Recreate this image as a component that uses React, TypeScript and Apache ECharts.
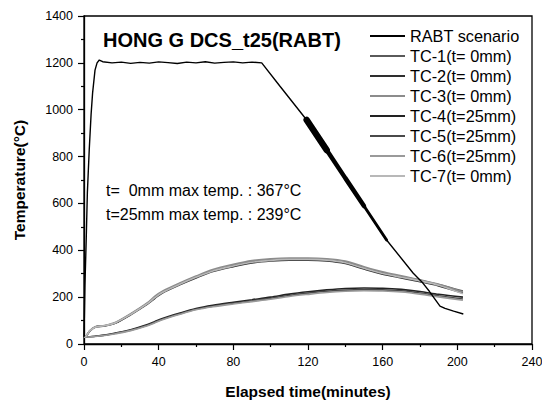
import React, { useEffect, useRef } from "react";
import * as echarts from "echarts";

// ---- Data ----
const rabtTimes = [0, 0.5, 1.2, 1.8, 2.8, 3.8, 4.6, 5.9, 7, 8.2, 10, 15, 20, 25, 30, 35, 40, 45, 50, 55, 60, 65, 70, 75, 80, 85, 90, 95.2, 105, 119.3, 125, 130, 140, 150, 162.1, 176.4, 180.9, 185, 190.7, 193.4, 198, 203.2];
const rabtValues = [30, 250, 450, 645, 828, 980, 1071, 1169, 1200, 1212, 1205, 1200, 1203, 1198, 1202, 1199, 1204, 1201, 1197, 1203, 1200, 1205, 1199, 1202, 1204, 1200, 1203, 1200, 1100, 956, 888, 828, 708, 589, 444, 302, 266, 225, 162, 152, 140, 128];

const tcTimes = [0, 1, 3, 6, 11, 17, 25, 34, 38, 42, 51, 60, 69, 80, 90, 100, 110, 120, 130, 140, 150, 160, 170, 180, 190, 203];
const tc1 = [30, 32, 55, 73, 78, 91, 127, 173, 200, 222, 256, 287, 314, 336, 352, 360, 364, 364, 361, 350, 326, 304, 288, 272, 254, 226];
const tc2 = [30, 32, 54, 72, 77, 90, 125, 170, 195, 218, 252, 282, 309, 330, 346, 354, 358, 358, 355, 344, 320, 298, 282, 266, 248, 218];
const tc3 = [30, 33, 56, 74, 79, 93, 129, 176, 204, 225, 259, 290, 318, 340, 356, 364, 367, 367, 364, 354, 330, 308, 291, 274, 255, 222];
const tc4 = [30, 30, 31, 33, 38, 47, 61, 83, 96, 109, 131, 151, 165, 178, 189, 200, 213, 223, 231, 237, 239, 238, 233, 224, 212, 200];
const tc5 = [30, 30, 31, 33, 37, 46, 59, 80, 93, 106, 128, 148, 161, 174, 184, 195, 207, 217, 225, 230, 232, 231, 227, 218, 206, 192];
const tc6 = [30, 30, 30, 32, 36, 44, 57, 78, 91, 104, 126, 146, 159, 171, 181, 191, 203, 212, 220, 225, 227, 226, 222, 213, 201, 187];
const tc7 = [30, 32, 55, 72, 78, 91, 126, 172, 198, 220, 254, 285, 312, 333, 349, 357, 361, 361, 358, 347, 323, 301, 285, 269, 251, 214];

const seriesNames = ["RABT scenario", "TC-1(t= 0mm)", "TC-2(t= 0mm)", "TC-3(t= 0mm)", "TC-4(t=25mm)", "TC-5(t=25mm)", "TC-6(t=25mm)", "TC-7(t= 0mm)"];
const tcValues = [tc1, tc2, tc3, tc4, tc5, tc6, tc7];
const tcColors = ["#5a5a5a", "#2e2e2e", "#8c8c8c", "#222222", "#4a4a4a", "#9a9a9a", "#b8b8b8"];

const xTicks = [0, 240, 40];
const yTicks = [0, 1400, 200];

const titleText = "HONG G DCS_t25(RABT)";
const note1 = "t=  0mm max temp. : 367°C";
const note2 = "t=25mm max temp. : 239°C";

const FONT = '"Liberation Sans", Arial, Helvetica, sans-serif';

export default function App() {
  const ref = useRef<HTMLDivElement>(null);

  useEffect(() => {
    if (!ref.current) return;
    const chart = echarts.init(ref.current, null, { renderer: "svg" });

    const rabtPairs = rabtTimes.map((t, i) => [t, rabtValues[i]]);
    const bandSeg = (a: number, b: number) => rabtPairs.filter((p) => p[0] >= a && p[0] <= b);

    const series: any[] = [];
    series.push({
      name: seriesNames[0],
      type: "line",
      data: rabtPairs,
      showSymbol: false,
      symbol: "none",
      lineStyle: { color: "#000", width: 1.4 },
      itemStyle: { color: "#000" },
      z: 5,
    });
    const bands: [number, number, number][] = [
      [119.3, 130, 6.5],
      [125, 150, 4.5],
      [140, 162.1, 3],
    ];
    bands.forEach(([a, b, w]) => {
      series.push({
        name: "band",
        type: "line",
        data: bandSeg(a, b),
        showSymbol: false,
        symbol: "none",
        lineStyle: { color: "#000", width: w, cap: "round" },
        silent: true,
        z: 5,
      });
    });
    tcValues.forEach((vals, k) => {
      series.push({
        name: seriesNames[k + 1],
        type: "line",
        data: tcTimes.map((t, i) => [t, vals[i]]),
        smooth: 0.3,
        showSymbol: false,
        symbol: "none",
        lineStyle: { color: tcColors[k], width: 1.6 },
        itemStyle: { color: tcColors[k] },
        z: 3,
      });
    });

    chart.setOption({
      animation: false,
      backgroundColor: "#fff",
      textStyle: { fontFamily: FONT },
      grid: {
        left: 84,
        top: 16,
        right: 10,
        bottom: 57,
        containLabel: false,
        outerBoundsMode: "none",
        show: true,
        borderColor: "#000",
        borderWidth: 1.3,
        backgroundColor: "transparent",
      },
      legend: {
        data: seriesNames,
        orient: "vertical",
        left: 365,
        top: 22,
        icon: "rect",
        itemWidth: 35,
        itemHeight: 2,
        itemGap: 2,
        selectedMode: false,
        textStyle: { fontFamily: FONT, fontSize: 16.3, color: "#000", lineHeight: 18 },
      },
      xAxis: {
        type: "value",
        min: xTicks[0],
        max: xTicks[1],
        interval: xTicks[2],
        name: "Elapsed time(minutes)",
        nameLocation: "middle",
        nameGap: 39,
        nameTextStyle: { fontFamily: FONT, fontSize: 15.5, fontWeight: "bold", color: "#000" },
        axisLine: { show: true, lineStyle: { color: "#000", width: 1.3 } },
        axisTick: { show: true, inside: false, length: 6, lineStyle: { color: "#000", width: 1.2 } },
        minorTick: { show: true, splitNumber: 2, length: 3, lineStyle: { color: "#000", width: 1.2 } },
        axisLabel: { fontFamily: FONT, fontSize: 12.5, color: "#000", margin: 11 },
        splitLine: { show: false },
      },
      yAxis: {
        type: "value",
        min: yTicks[0],
        max: yTicks[1],
        interval: yTicks[2],
        name: "Temperature(°C)",
        nameLocation: "middle",
        nameGap: 57,
        nameRotate: 90,
        nameTextStyle: { fontFamily: FONT, fontSize: 15.5, fontWeight: "bold", color: "#000" },
        axisLine: { show: true, lineStyle: { color: "#000", width: 1.3 } },
        axisTick: { show: true, inside: false, length: 6, lineStyle: { color: "#000", width: 1.2 } },
        minorTick: { show: true, splitNumber: 2, length: 3, lineStyle: { color: "#000", width: 1.2 } },
        axisLabel: {
          fontFamily: FONT,
          fontSize: 12.5,
          color: "#000",
          margin: 11,
          formatter: (v: number) => String(v),
        },
        splitLine: { show: false },
      },
      graphic: [
        {
          type: "text",
          left: 103,
          top: 30,
          style: { text: titleText, font: `bold 20px ${FONT}`, fill: "#000" },
        },
        {
          type: "text",
          left: 106,
          top: 182,
          style: { text: note1, font: `16px ${FONT}`, fill: "#000" },
        },
        {
          type: "text",
          left: 106,
          top: 206,
          style: { text: note2, font: `16px ${FONT}`, fill: "#000" },
        },
      ],
      series,
    });

    return () => chart.dispose();
  }, []);

  return <div ref={ref} style={{ width: 542, height: 401, position: "absolute", left: 0, top: 0 }} />;
}
